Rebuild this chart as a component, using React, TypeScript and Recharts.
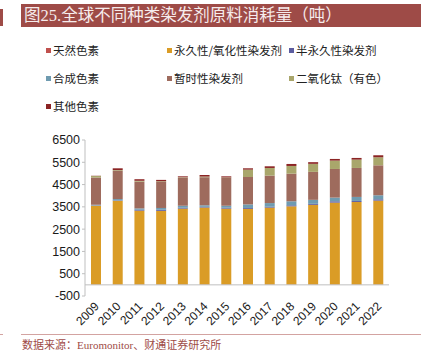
import React from 'react';
import { BarChart, Bar, XAxis, YAxis, ReferenceLine } from 'recharts';

const years = ['2009', '2010', '2011', '2012', '2013', '2014', '2015', '2016', '2017', '2018', '2019', '2020', '2021', '2022'];
const natural = [10, 10, 10, 10, 10, 10, 10, 10, 10, 10, 10, 10, 10, 10];
const permanent = [3540, 3760, 3320, 3310, 3410, 3460, 3410, 3400, 3455, 3515, 3580, 3680, 3710, 3770];
const semiPermanent = [15, 20, 40, 50, 40, 30, 40, 40, 40, 45, 45, 60, 45, 60];
const synthetic = [30, 60, 60, 80, 90, 70, 90, 160, 165, 180, 180, 165, 180, 180];
const temporary = [1220, 1270, 1200, 1170, 1260, 1260, 1250, 1230, 1230, 1240, 1255, 1285, 1300, 1345];
const tio2 = [70, 30, 40, 30, 20, 30, 20, 330, 345, 345, 360, 375, 375, 360];
const other = [10, 80, 70, 60, 40, 70, 50, 60, 75, 90, 75, 75, 75, 90];
const yTicks = [-500, 500, 1500, 2500, 3500, 4500, 5500, 6500];

const series = [
  { key: 'natural', name: '天然色素', color: '#C0504D', values: natural },
  { key: 'permanent', name: '永久性/氧化性染发剂', color: '#DA9C26', values: permanent },
  { key: 'semi', name: '半永久性染发剂', color: '#5C5DA0', values: semiPermanent },
  { key: 'synthetic', name: '合成色素', color: '#6F9BB0', values: synthetic },
  { key: 'temporary', name: '暂时性染发剂', color: '#9E6B5D', values: temporary },
  { key: 'tio2', name: '二氧化钛（有色）', color: '#A9A66B', values: tio2 },
  { key: 'other', name: '其他色素', color: '#8B2424', values: other },
];

const data = years.map((year, i) => {
  const row: Record<string, string | number> = { year };
  series.forEach(s => { row[s.key] = s.values[i]; });
  return row;
});

// legend slots: [x, y] of the colour square
const legendPos = [
  [46, 48], [167, 48], [289, 48],
  [46, 76], [167, 76], [289, 76],
  [46, 104],
];

const XTick = ({ x, y, payload }: any) => (
  <text
    x={x + 4}
    y={y + 3}
    transform={`rotate(-45, ${x + 4}, ${y + 3})`}
    textAnchor="end"
    fontSize={12}
    fill="#1a1a1a"
    fontFamily="'Liberation Sans', Arial, sans-serif"
  >
    {payload.value}
  </text>
);

export default function App() {
  return (
    <div style={{ position: 'absolute', left: 0, top: 0, width: 431, height: 354, background: '#fff', overflow: 'hidden' }}>
      {/* title banner */}
      <div style={{ position: 'absolute', left: 0, top: 9, width: 3, height: 17, background: '#9E4B47' }} />
      <div
        style={{
          position: 'absolute', left: 21, top: 4, width: 400, height: 23, background: '#9E4B47',
          color: '#F6ECEC', fontSize: 16.5, lineHeight: '23px', paddingLeft: 3, boxSizing: 'border-box',
          fontFamily: "'Liberation Serif', 'Noto Sans CJK SC', serif", whiteSpace: 'nowrap',
        }}
      >
        图25.全球不同种类染发剂原料消耗量（吨）
      </div>

      {/* legend */}
      {series.map((s, i) => (
        <div
          key={s.key}
          style={{
            position: 'absolute', left: legendPos[i][0], top: legendPos[i][1] - 6, height: 16,
            display: 'flex', alignItems: 'center', whiteSpace: 'nowrap',
            fontFamily: "'Noto Sans CJK SC', sans-serif", fontSize: 11.5, color: '#222',
          }}
        >
          <span style={{ display: 'inline-block', width: 5, height: 5, background: s.color, marginRight: 2 }} />
          {s.name}
        </div>
      ))}

      <div style={{ position: 'absolute', left: 0, top: 0 }}>
        <BarChart
          width={431}
          height={354}
          data={data}
          margin={{ top: 140, right: 42, bottom: 0, left: 0 }}
          barSize={10}
        >
          <YAxis
            type="number"
            domain={[-500, 6500]}
            ticks={yTicks}
            interval={0}
            width={85}
            tick={{ fontSize: 12.5, fill: '#1a1a1a', fontFamily: "'Liberation Sans', Arial, sans-serif" }}
            tickSize={3}
            axisLine={{ stroke: '#BFBFBF' }}
            tickLine={{ stroke: '#BFBFBF' }}
          />
          <XAxis
            dataKey="year"
            interval={0}
            height={58}
            axisLine={false}
            tickLine={false}
            tick={<XTick />}
          />
          <ReferenceLine y={0} stroke="#BFBFBF" strokeWidth={1} />
          {series.map(s => (
            <Bar key={s.key} dataKey={s.key} name={s.name} stackId="a" fill={s.color} isAnimationActive={false} />
          ))}
        </BarChart>
      </div>

      {/* footer */}
      <div style={{ position: 'absolute', left: 0, top: 334, width: 3, height: 1, background: '#D3A3A1' }} />
      <div style={{ position: 'absolute', left: 21, top: 334, width: 400, height: 1, background: '#D3A3A1' }} />
      <div
        style={{
          position: 'absolute', left: 22, top: 338, fontSize: 11, lineHeight: '14px', color: '#9E4B47',
          fontFamily: "'Liberation Serif', 'Noto Sans CJK SC', serif", whiteSpace: 'nowrap',
        }}
      >
        数据来源：Euromonitor、财通证券研究所
      </div>
    </div>
  );
}
